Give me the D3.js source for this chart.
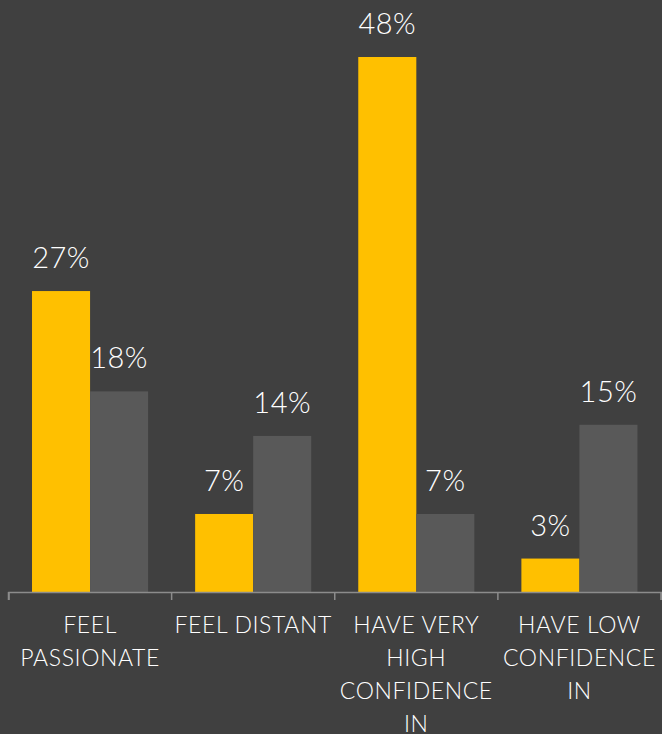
<!DOCTYPE html>
<html>
<head>
<meta charset="utf-8">
<script src="https://cdn.jsdelivr.net/npm/d3@7"></script>
<style>
  html, body { margin: 0; padding: 0; background: #404040; }
  svg { display: block; }
  text { font-family: Lato, "Open Sans", sans-serif; font-weight: 300; fill: #ffffff; }
</style>
</head>
<body>
<svg id="chart" width="662" height="734"></svg>
<script>
// Survey answers, percent of respondents
const categories = ["FEEL PASSIONATE", "FEEL DISTANT", "HAVE VERY HIGH CONFIDENCE IN", "HAVE LOW CONFIDENCE IN"];
const seriesNames = ["Group A", "Group B"];
const seriesA = [27, 7, 48, 3];
const seriesB = [18, 14, 7, 15];
const colors = ["#FFC000", "#595959"];

const width = 662, height = 734;
const margin = { left: 8.5, right: 1, top: 57, bottom: 142 };
const svg = d3.select("#chart");

const rows = categories.map((c, i) => ({ cat: c, values: [seriesA[i], seriesB[i]] }));

const x = d3.scaleBand()
  .domain(categories)
  .range([margin.left, width - margin.right])
  .paddingInner(0)
  .paddingOuter(0);

const xInner = d3.scaleBand()
  .domain(seriesNames)
  .range([0, x.bandwidth()])
  .paddingOuter(0.405)
  .paddingInner(0);

const y = d3.scaleLinear()
  .domain([0, 48])
  .range([height - margin.bottom, margin.top]);

// bars
const groups = svg.append("g").selectAll("g")
  .data(rows)
  .join("g")
  .attr("transform", d => `translate(${x(d.cat)},0)`);

groups.selectAll("rect")
  .data(d => d.values.map((v, k) => ({ v, k })))
  .join("rect")
  .attr("x", d => xInner(seriesNames[d.k]))
  .attr("width", xInner.bandwidth())
  .attr("y", d => y(d.v))
  .attr("height", d => y(0) - y(d.v))
  .attr("fill", d => colors[d.k]);

// value labels
groups.selectAll("text.val")
  .data(d => d.values.map((v, k) => ({ v, k })))
  .join("text")
  .attr("class", "val")
  .attr("x", d => xInner(seriesNames[d.k]) + xInner.bandwidth() / 2)
  .attr("y", d => y(d.v) - 23)
  .attr("text-anchor", "middle")
  .style("font-size", "29px")
  .style("letter-spacing", "0.5px")
  .text(d => d.v + "%");

// category axis
const axis = d3.axisBottom(x).tickSize(8).tickSizeOuter(8).tickFormat("");
const axisG = svg.append("g")
  .attr("transform", `translate(0,${y(0)})`)
  .call(axis);
axisG.select(".domain").attr("stroke", "#8c8c8c").attr("stroke-width", 1.5);
// ticks on band boundaries rather than centers
axisG.selectAll(".tick").remove();
const bounds = categories.map(c => x(c)).concat([x.range()[1]]);
axisG.selectAll("line.bound")
  .data(bounds)
  .join("line")
  .attr("class", "bound")
  .attr("x1", d => d).attr("x2", d => d)
  .attr("y1", 0).attr("y2", 8)
  .attr("stroke", "#8c8c8c")
  .attr("stroke-width", 1.5);

// wrapped category labels
const labelSize = 23, lineH = 33;
const labels = svg.append("g").selectAll("text.cat")
  .data(categories)
  .join("text")
  .attr("class", "cat")
  .attr("text-anchor", "middle")
  .style("font-size", labelSize + "px")
  .style("letter-spacing", "0.6px")
  .attr("x", d => x(d) + x.bandwidth() / 2)
  .attr("y", y(0) + 41);

labels.each(function (d) {
  const t = d3.select(this);
  const words = d.split(" ");
  const maxW = x.bandwidth() - 2;
  let line = [];
  let lines = [];
  const probe = t.append("tspan");
  words.forEach(w => {
    const test = line.concat([w]).join(" ");
    probe.text(test);
    if (probe.node().getComputedTextLength() > maxW && line.length) {
      lines.push(line.join(" "));
      line = [w];
    } else {
      line.push(w);
    }
  });
  lines.push(line.join(" "));
  probe.remove();
  lines.forEach((l, i) => {
    t.append("tspan")
      .attr("x", x(d) + x.bandwidth() / 2)
      .attr("dy", i === 0 ? 0 : lineH)
      .text(l);
  });
});
</script>
</body>
</html>
